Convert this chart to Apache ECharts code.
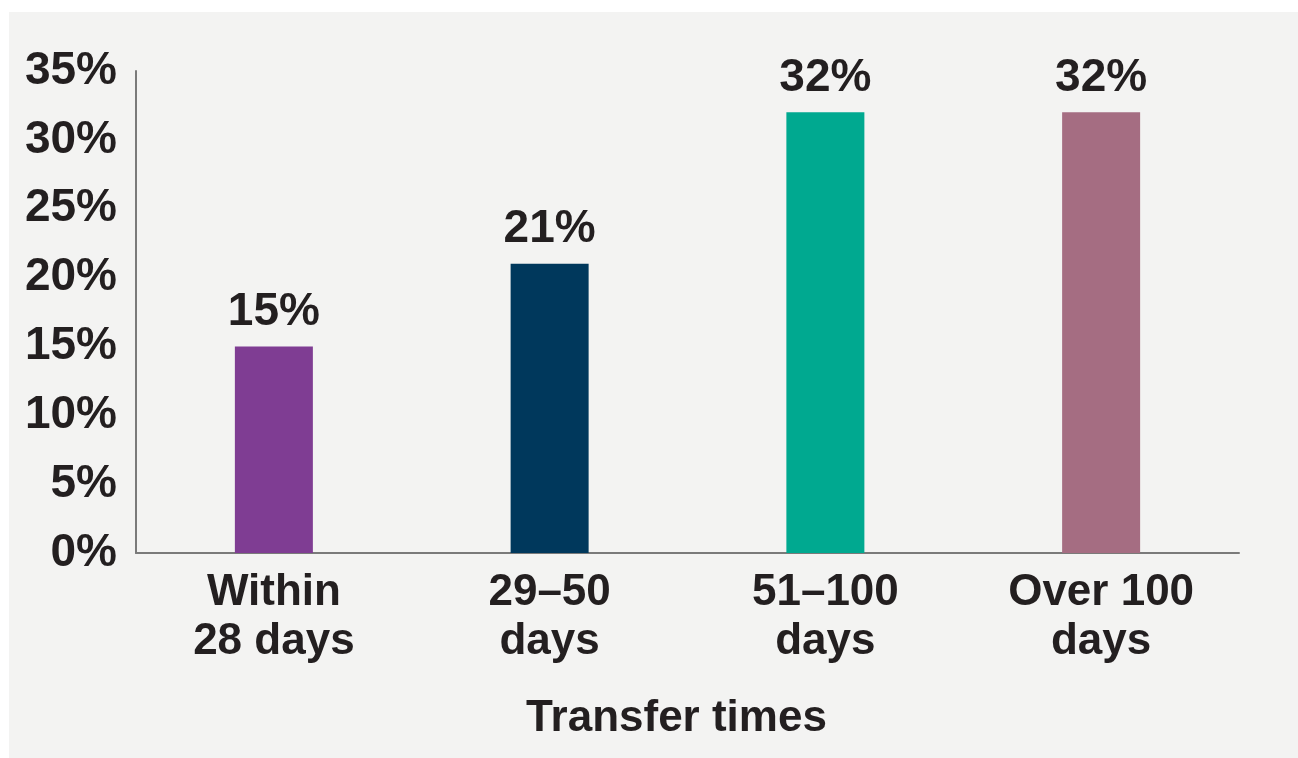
<!DOCTYPE html>
<html>
<head>
<meta charset="utf-8">
<script src="https://cdn.jsdelivr.net/npm/echarts@6/dist/echarts.min.js"></script>
<style>
html,body{margin:0;padding:0;background:#ffffff;}
#panel{position:absolute;left:9px;top:12px;width:1289px;height:746px;background:#f3f3f2;}
#chart{position:absolute;left:0;top:0;width:1298px;height:758px;}
</style>
</head>
<body>
<div id="panel"></div>
<div id="chart"></div>
<script>
const categories = ['Within\n28 days', '29\u201350\ndays', '51\u2013100\ndays', 'Over 100\ndays'];
const values = [15, 21, 32, 32];
const barColors = ['#7f3d93', '#00385c', '#00a990', '#a56d82'];
const yTicks = [0, 5, 10, 15, 20, 25, 30, 35];
const axisTitle = 'Transfer times';

const FONT = '"Liberation Sans Narrow", "Arial Narrow", "Liberation Sans", Arial, sans-serif';
const TXT = '#231f20';

const chart = echarts.init(document.getElementById('chart'), null, {renderer: 'canvas'});
chart.setOption({
  backgroundColor: 'transparent',
  animation: false,
  grid: {left: 136, right: 59, top: 71, bottom: 205, containLabel: false},
  xAxis: {
    type: 'category',
    data: categories,
    name: axisTitle,
    nameLocation: 'middle',
    nameGap: 144,
    nameTextStyle: {fontFamily: FONT, fontWeight: 'bold', fontSize: 44, color: TXT, padding: [0, 22, 0, 0]},
    axisLine: {show: true, lineStyle: {color: '#7a7a7a', width: 2}},
    axisTick: {show: false},
    axisLabel: {fontFamily: FONT, fontWeight: 'bold', fontSize: 44, color: TXT, lineHeight: 49, margin: 15}
  },
  yAxis: {
    type: 'value',
    min: yTicks[0],
    max: yTicks[yTicks.length - 1],
    interval: 5,
    axisLine: {show: true, lineStyle: {color: '#7a7a7a', width: 2}},
    axisTick: {show: false},
    splitLine: {show: false},
    axisLabel: {fontFamily: FONT, fontWeight: 'bold', fontSize: 46, color: TXT, margin: 19, formatter: v => v + '%'}
  },
  series: [{
    type: 'bar',
    data: values.map((v, i) => ({value: v, itemStyle: {color: barColors[i]}})),
    barWidth: 78,
    label: {show: true, position: 'top', distance: 11, fontFamily: FONT, fontWeight: 'bold', fontSize: 46, color: TXT, formatter: p => p.value + '%'}
  }]
});
</script>
</body>
</html>
